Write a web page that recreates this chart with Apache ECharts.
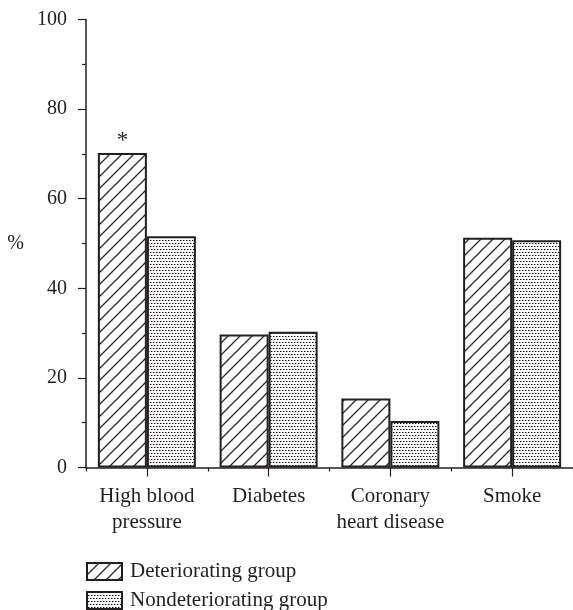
<!DOCTYPE html>
<html>
<head>
<meta charset="utf-8">
<script src="https://cdn.jsdelivr.net/npm/echarts@6/dist/echarts.min.js"></script>
<style>
  html, body { margin: 0; padding: 0; background: #fff; }
  #chart { width: 573px; height: 610px; }
</style>
</head>
<body>
<div id="chart"></div>
<script>
// Risk factors by group (%)
const categories = ['High blood\npressure', 'Diabetes', 'Coronary\nheart disease', 'Smoke'];
const deteriorating = [70.2, 29.7, 15.4, 51.3];
const nondeteriorating = [51.6, 30.3, 10.4, 50.7];
const significance = ['*', '', '', ''];
const seriesNames = ['Deteriorating group', 'Nondeteriorating group'];
const yTicks = { min: 0, max: 100, step: 20 };

const INK = '#231f20';
const FONT = '"Liberation Serif", "Times New Roman", serif';

// Diagonal hatch tile
function hatchPattern() {
  const s = 12;
  const c = document.createElement('canvas');
  c.width = s; c.height = s;
  const g = c.getContext('2d');
  g.fillStyle = '#fff';
  g.fillRect(0, 0, s, s);
  g.strokeStyle = '#2a2a2a';
  g.lineWidth = 1.3;
  g.beginPath();
  g.moveTo(-2, s + 2); g.lineTo(s + 2, -2);
  g.moveTo(-2, 2); g.lineTo(2, -2);
  g.moveTo(s - 2, s + 2); g.lineTo(s + 2, s - 2);
  g.stroke();
  return c;
}

// Fine stipple tile
function dotPattern() {
  const s = 6;
  const c = document.createElement('canvas');
  c.width = s; c.height = s;
  const g = c.getContext('2d');
  g.fillStyle = '#fff';
  g.fillRect(0, 0, s, s);
  g.fillStyle = '#000';
  g.fillRect(0, 0, 1, 1);
  g.fillRect(3, 0, 1, 1);
  g.fillRect(1, 3, 1, 1);
  g.fillRect(4, 3, 1, 1);
  g.fillStyle = 'rgba(0,0,0,0.4)';
  g.fillRect(1, 0, 1, 1);
  g.fillRect(4, 0, 1, 1);
  g.fillRect(2, 3, 1, 1);
  g.fillRect(5, 3, 1, 1);
  return c;
}

const hatch = { image: hatchPattern(), repeat: 'repeat' };
const dots = { image: dotPattern(), repeat: 'repeat' };

const detData = deteriorating.map((v, i) => significance[i]
  ? { value: v, label: { show: true, position: 'top', distance: 1, formatter: significance[i] } }
  : v);

const chart = echarts.init(document.getElementById('chart'), null, { renderer: 'canvas' });
chart.setOption({
  animation: false,
  backgroundColor: '#fff',
  textStyle: { fontFamily: FONT, color: INK },
  grid: { left: 86, top: 19.5, width: 489, bottom: 142.5, containLabel: false },
  legend: {
    orient: 'vertical',
    left: 86,
    top: 561,
    height: 80,
    padding: 0,
    itemWidth: 35,
    itemHeight: 17,
    itemGap: 8,
    icon: 'rect',
    textStyle: { fontFamily: FONT, fontSize: 21, lineHeight: 17, color: INK, padding: [0, 0, 0, 3] },
    data: seriesNames
  },
  xAxis: [
    {
      type: 'category',
      data: categories,
      boundaryGap: true,
      axisLine: { show: true, lineStyle: { color: INK, width: 1.5 } },
      axisTick: { show: true, length: 4, lineStyle: { color: INK, width: 1.2 } },
      axisLabel: {
        show: true, interval: 0, margin: 16,
        fontFamily: FONT, fontSize: 21, lineHeight: 26, color: INK
      },
      splitLine: { show: false }
    },
    {
      type: 'category',
      data: categories,
      boundaryGap: true,
      position: 'bottom',
      axisLine: { show: false },
      axisTick: { show: true, alignWithLabel: true, length: 9, lineStyle: { color: INK, width: 1.2 } },
      axisLabel: { show: false },
      splitLine: { show: false }
    }
  ],
  yAxis: {
    type: 'value',
    min: yTicks.min,
    max: yTicks.max,
    interval: yTicks.step,
    name: '%',
    nameLocation: 'middle',
    nameRotate: 0,
    nameGap: 62,
    nameTextStyle: { fontFamily: FONT, fontSize: 20, color: INK },
    axisLine: { show: true, lineStyle: { color: INK, width: 1.5 } },
    axisTick: { show: true, length: 8, lineStyle: { color: INK, width: 1.2 } },
    minorTick: { show: true, splitNumber: 2, length: 4, lineStyle: { color: INK, width: 1.2 } },
    axisLabel: { margin: 19, fontFamily: FONT, fontSize: 20, color: INK },
    splitLine: { show: false }
  },
  series: [
    {
      name: seriesNames[0],
      type: 'bar',
      xAxisIndex: 0,
      barWidth: 49,
      barGap: '0%',
      data: detData,
      itemStyle: { color: hatch, borderColor: INK, borderWidth: 2 },
      label: { show: false, fontFamily: FONT, fontSize: 23, color: INK }
    },
    {
      name: seriesNames[1],
      type: 'bar',
      xAxisIndex: 0,
      barWidth: 49,
      barGap: '0%',
      data: nondeteriorating,
      itemStyle: { color: dots, borderColor: INK, borderWidth: 2 }
    }
  ]
});
</script>
</body>
</html>
